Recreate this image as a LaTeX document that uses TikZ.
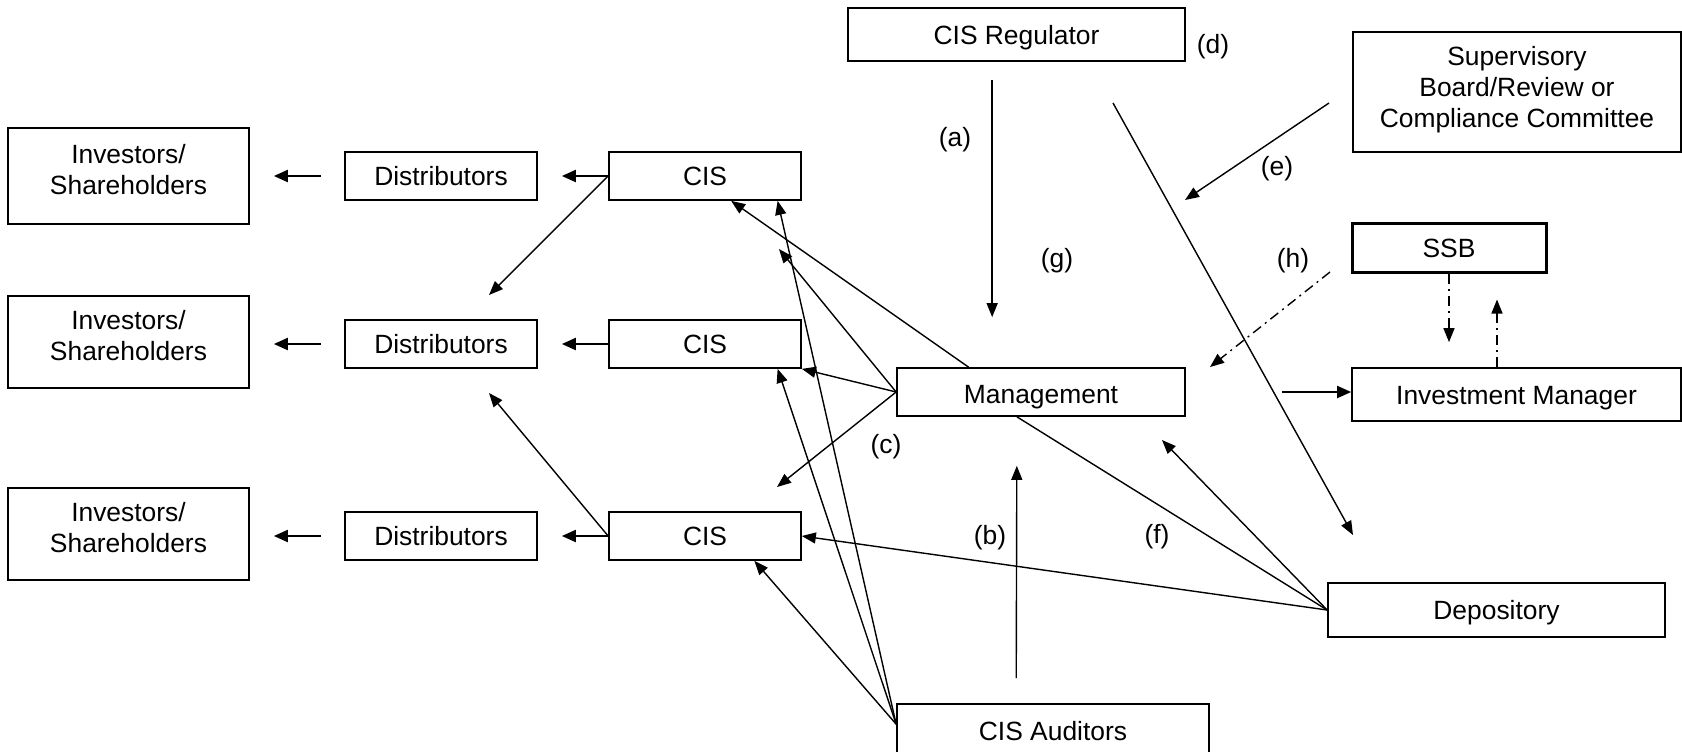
\documentclass[tikz,border=0pt]{standalone}
\usepackage{fontspec}
\setmainfont{Liberation Sans}
\usetikzlibrary{arrows.meta,calc}
\begin{document}
\begin{tikzpicture}[x=0.5pt,y=-0.5pt,
  box/.style={draw, line width=0.85pt, inner sep=0pt, align=center, font=\fontsize{13.2}{15.5}\selectfont},
  one/.style={box, text height=9.6pt, text depth=0pt},
  lbl/.style={inner sep=0pt, font=\fontsize{13.2}{15.5}\selectfont},
  arr/.style={line width=0.7pt, -{Triangle[length=7pt,width=5.5pt]}},
  arrb/.style={line width=1pt, -{Triangle[length=7pt,width=6pt]}},
  ln/.style={line width=0.7pt},
  dd/.style={line width=0.7pt, dash pattern=on 5pt off 2.5pt on 1pt off 2.5pt, -{Triangle[length=7pt,width=5.5pt]}}]
\useasboundingbox (0,0) rectangle (1682,751);

% left column
\node[box, text depth=6.4pt, minimum width=120.5pt, minimum height=48pt] (inv1) at (128.5,176) {Investors/\\Shareholders};
\node[box, text depth=6.4pt, minimum width=120.5pt, minimum height=46pt] (inv2) at (128.5,342) {Investors/\\Shareholders};
\node[box, text depth=6.4pt, minimum width=120.5pt, minimum height=46pt] (inv3) at (128.5,534) {Investors/\\Shareholders};
\node[one, minimum width=96pt, minimum height=24pt] (dist1) at (441,176) {Distributors};
\node[one, minimum width=96pt, minimum height=24pt] (dist2) at (441,344) {Distributors};
\node[one, minimum width=96pt, minimum height=24pt] (dist3) at (441,536) {Distributors};
\node[one, minimum width=96pt, minimum height=24pt] (cis1) at (705,176) {CIS};
\node[one, minimum width=96pt, minimum height=24pt] (cis2) at (705,344) {CIS};
\node[one, minimum width=96pt, minimum height=24pt] (cis3) at (705,536) {CIS};

% centre and right
\node[one, minimum width=168.5pt, minimum height=26.5pt] (reg) at (1016.5,34.5) {CIS Regulator};
\node[box, text depth=5pt, minimum width=164pt, minimum height=60pt] (sup) at (1517,92) {Supervisory\\Board/Review or\\Compliance Committee};
\node[one, line width=1.5pt, minimum width=97pt, minimum height=24.5pt] (ssb) at (1449,247.5) {SSB};
\node[one, text height=11.6pt, minimum width=144pt, minimum height=24pt] (mgmt) at (1041,392) {Management};
\node[one, minimum width=164.5pt, minimum height=26.5pt] (im) at (1516.5,394.5) {Investment Manager};
\node[one, minimum width=168.5pt, minimum height=27pt] (dep) at (1496.5,610) {Depository};
\node[one, minimum width=156pt, minimum height=27pt] (aud) at (1053,731) {CIS Auditors};

% labels
\node[lbl] (la) at (955,140) {(a)};
\node[lbl] (lb) at (990,538) {(b)};
\node[lbl] (lc) at (886,447) {(c)};
\node[lbl] (ld) at (1213,47) {(d)};
\node[lbl] (le) at (1277,169) {(e)};
\node[lbl] (lf) at (1157,537) {(f)};
\node[lbl] (lg) at (1057,261) {(g)};
\node[lbl] (lh) at (1293,261) {(h)};

% free ends and anchor points
\coordinate (c1t) at (489,295);
\coordinate (c3t) at (489,393);
\coordinate (m1t) at (779,249);
\coordinate (mct) at (777,487);
\coordinate (dft) at (1162,440);
\coordinate (d1) at (1113,103);
\coordinate (d2) at (1353,535);
\coordinate (e1) at (1329,103);
\coordinate (e2) at (1185,200);
\coordinate (h1) at (1330,272);
\coordinate (h2) at (1210,367);
\coordinate (mN) at ($(mgmt.north west)!0.25!(mgmt.north east)$);
\coordinate (mS) at ($(mgmt.south west)!0.417!(mgmt.south east)$);
\coordinate (mW) at ($(mgmt.north west)!0.5!(mgmt.south west)$);
\coordinate (audL) at ($(aud.north west)+(0,21)$);
\coordinate (audT) at ($(aud.north west)+(120,0)$);
\coordinate (regB) at ($(reg.south west)+(145,0)$);
\coordinate (imT) at ($(im.north)+(-19.5,0)$);

% left arrows
\foreach \i in {1,2,3}{
  \draw[arrb, shorten <=11.5pt, shorten >=12pt] (dist\i.west) -- (dist\i.west -| inv\i.east);
  \draw[arrb, shorten >=12pt] (cis\i.west) -- (dist\i.east);
}
\draw[arr] (cis1.west) -- (c1t);
\draw[arr] (cis3.west) -- (c3t);

% management to CIS
\draw[arr] (mN) -- ($(cis1.south west)!0.635!(cis1.south east)$);
\draw[arr] (mW) -- (m1t);
\draw[arr] (mW) -- (cis2.south east);
\draw[arr] (mW) -- (mct);

% auditors to CIS
\draw[arr] (audL) -- ($(cis1.south west)!0.875!(cis1.south east)$);
\draw[arr] (audL) -- ($(cis2.south west)!0.875!(cis2.south east)$);
\draw[arr] (audL) -- ($(cis3.south west)!0.755!(cis3.south east)$);
\draw[arr, shorten <=12.5pt, shorten >=24.5pt] (audT) -- (mS);

% depository
\draw[arr] (dep.west) -- (cis3.east);
\draw[ln] (dep.west) -- (mS);
\draw[arr] (dep.west) -- (dft);

% regulator, supervisory, SSB
\draw[arr, shorten <=9pt, shorten >=25pt] (regB) -- (regB |- mgmt.north);
\draw[arr] (d1) -- (d2);
\draw[arr] (e1) -- (e2);
\draw[dd] (h1) -- (h2);
\draw[arrb, shorten <=48pt] (mgmt.east) -- (mgmt.east -| im.west);
\draw[dd, shorten >=12.5pt] (ssb.south) -- (ssb.south |- im.north);
\draw[dd, shorten >=13pt] (imT) -- (imT |- ssb.south);
\end{tikzpicture}
\end{document}
